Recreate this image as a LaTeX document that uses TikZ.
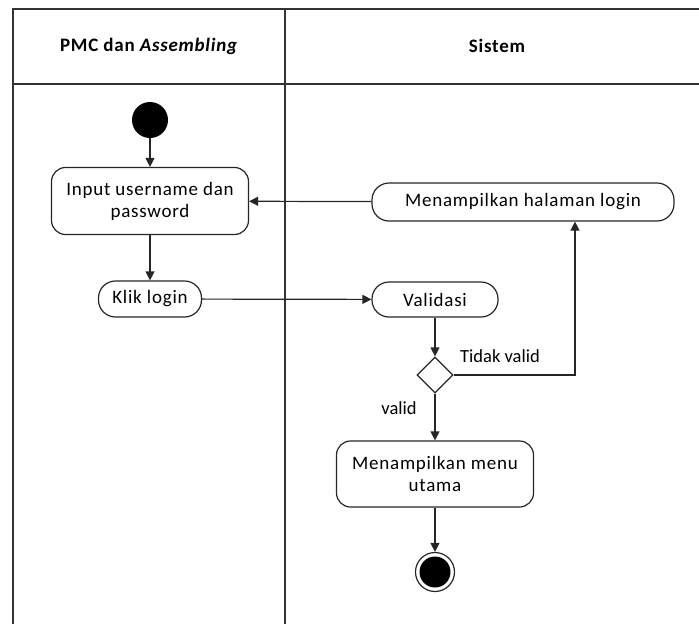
\documentclass[tikz,border=0pt]{standalone}
\usepackage{fontspec}
\setmainfont{Carlito}
\newfontfamily\spacedfont[LetterSpace=4]{Carlito}
\usetikzlibrary{shapes.geometric,arrows.meta}
\begin{document}
\begin{tikzpicture}[x=1pt,y=-1pt,
  lane/.style={line width=1.6pt,draw=black!80},
  act/.style={draw=black!85,line width=1.2pt,rounded corners=14pt,align=center,font=\spacedfont\fontsize{19}{22}\selectfont,inner sep=0pt},
  pill/.style={draw=black!85,line width=1.2pt,rounded corners=17pt,align=center,font=\spacedfont\fontsize{19}{22}\selectfont,inner sep=0pt},
  flow/.style={line width=1.2pt,draw=black!85,-{Triangle[length=9pt,width=9pt]}},
  lbl/.style={font=\fontsize{18.5}{20}\selectfont,inner sep=0pt},
  hdr/.style={font=\spacedfont\fontsize{19}{22}\selectfont\bfseries,inner sep=0pt}]
\useasboundingbox (0,0) rectangle (699,624);
% swimlanes
\draw[lane] (13,624) -- (13,9) -- (699,9);
\draw[lane] (285,9) -- (285,624);
\draw[lane] (13,84) -- (699,84);
\node[hdr] (h1) at (149,46) {PMC dan \textit{Assembling}};
\node[hdr] (h2) at (497,46) {Sistem};
% nodes
\node[circle,fill=black,minimum size=36pt,inner sep=0pt] (start) at (150,120) {};
\node[act,minimum width=197pt,minimum height=67pt] (input) at (150,201) {Input username dan\\password};
\node[pill,minimum width=103pt,minimum height=36pt] (klik) at (150,299) {Klik login};
\node[pill,minimum width=302pt,minimum height=38pt] (hal) at (523,202) {Menampilkan halaman login};
\node[pill,minimum width=126pt,minimum height=35pt] (val) at (435,299.5) {Validasi};
\node[diamond,draw=black!85,line width=1.2pt,minimum width=36pt,minimum height=36pt,inner sep=0pt] (dec) at (435,375) {};
\node[act,minimum width=197pt,minimum height=66pt] (menu) at (435,474) {Menampilkan menu\\utama};
\node[circle,draw=black!85,line width=1.2pt,minimum size=39pt,inner sep=0pt] (end) at (435,572) {};
\node[circle,fill=black,minimum size=31pt,inner sep=0pt] (endin) at (435,572) {};
\node[lbl] (tv) at (500,356) {Tidak valid};
\node[lbl] (v) at (399,408) {valid};
\coordinate (corner) at (575,375);
% flows
\draw[flow] (start) -- (input);
\draw[flow] (input) -- (klik);
\draw[flow] (hal) -- (input);
\draw[flow] (klik) -- (val);
\draw[flow] (val) -- (dec);
\draw[flow] (dec.east) -- (corner) -- (corner |- hal.south);
\draw[flow] (dec) -- (menu);
\draw[flow] (menu) -- (end);
\end{tikzpicture}
\end{document}
